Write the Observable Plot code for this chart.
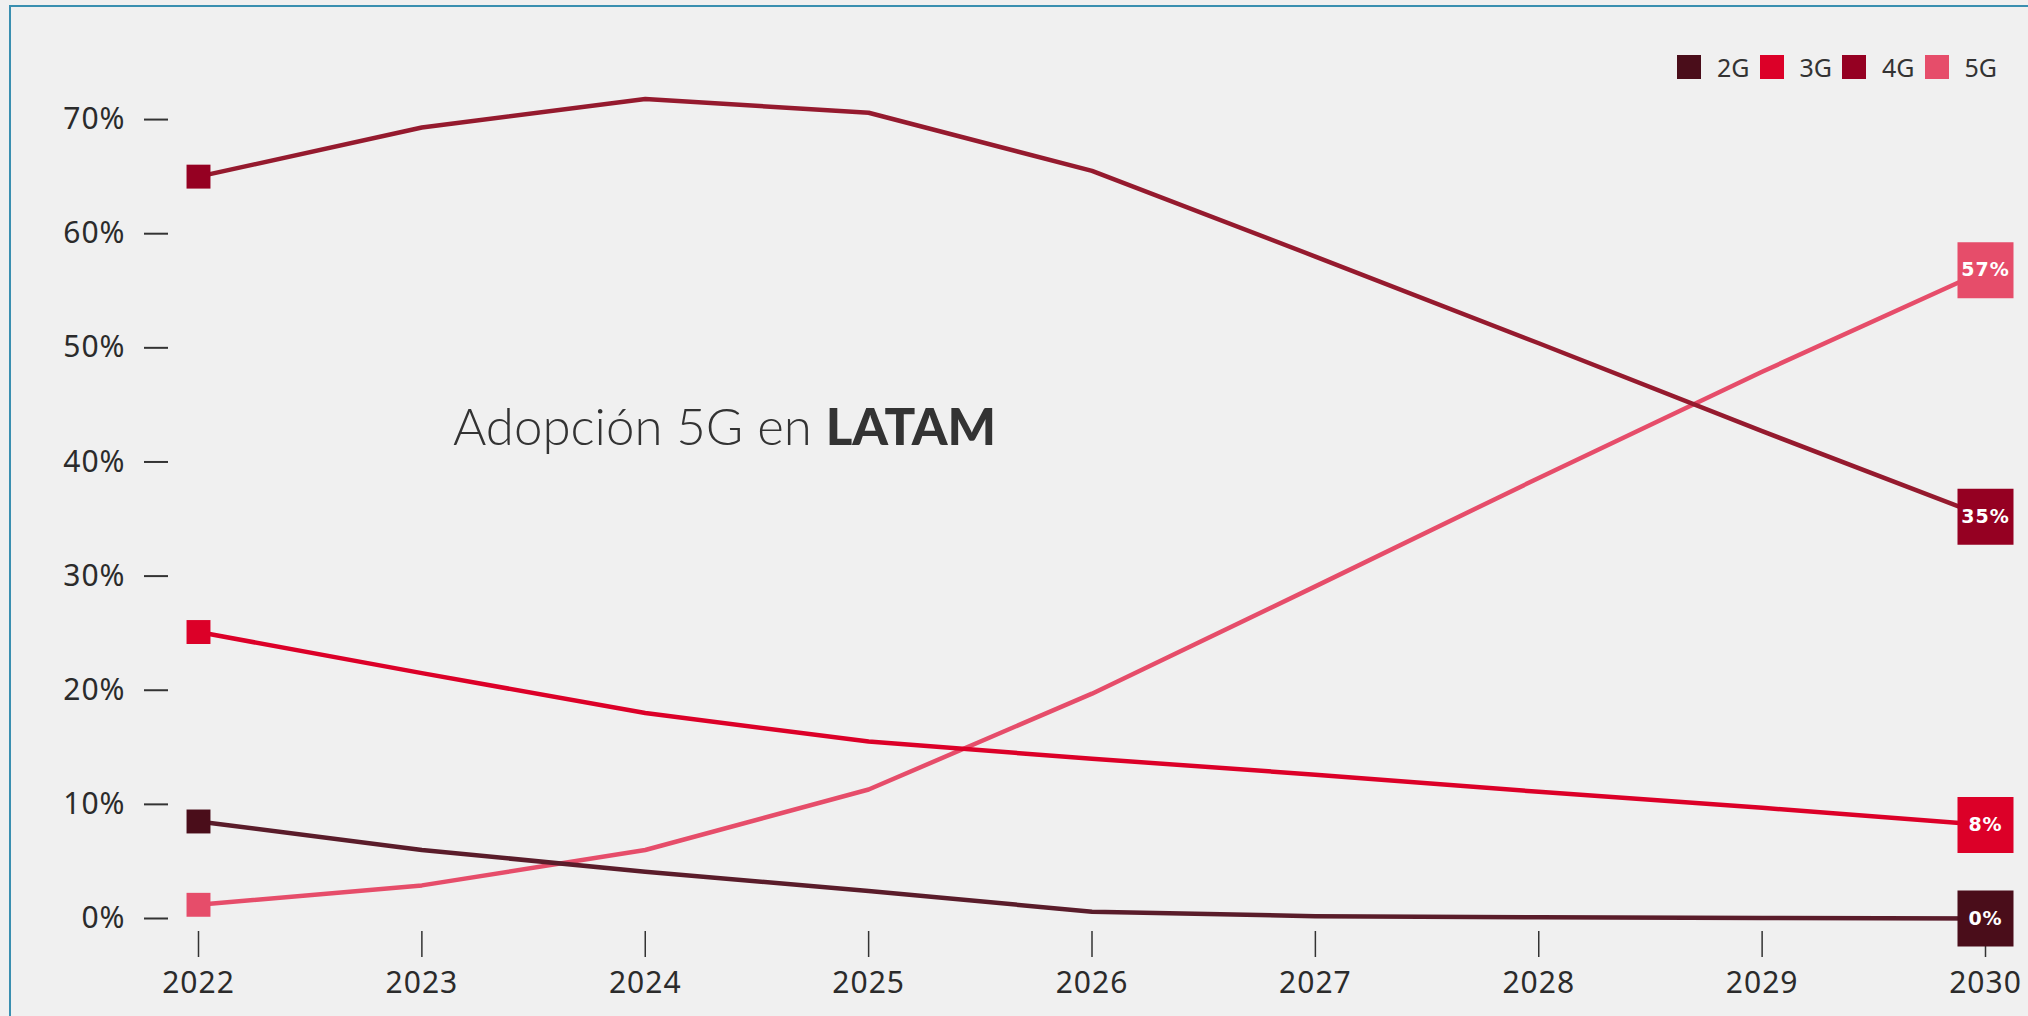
<!DOCTYPE html>
<html><head><meta charset="utf-8">
<script src="https://cdn.jsdelivr.net/npm/d3@7"></script>
<script src="https://cdn.jsdelivr.net/npm/@observablehq/plot@0.6"></script>
<style>
html,body{margin:0;padding:0;background:#f0f0f0;}
#wrap{position:relative;width:2028px;height:1016px;overflow:hidden;background:#f0f0f0;}
#borderTop{position:absolute;left:9px;top:5px;width:2019px;height:2px;background:#3a8fb0;}
#borderLeft{position:absolute;left:9px;top:5px;width:2px;height:1011px;background:#3a8fb0;}
#chart{position:absolute;left:0;top:0;}
#title{position:absolute;left:453px;top:400px;font-family:Lato,"Noto Sans",sans-serif;font-weight:300;font-size:51px;line-height:1;color:#333;white-space:nowrap;}
#title b{font-weight:900;}
#legend{position:absolute;left:1677px;top:55px;height:24px;display:flex;align-items:center;font-family:"Noto Sans",sans-serif;font-size:25px;color:#333;}
#legend .sw{width:24px;height:24px;margin-right:16px;}
#legend .lb{margin-right:10px;}
</style>
</head><body>
<div id="wrap">
  <div id="borderTop"></div><div id="borderLeft"></div>
  <div id="chart"></div>
  <div id="title">Adopción 5G en <b>LATAM</b></div>
  <div id="legend"></div>
</div>
<script>
const years = [2022, 2023, 2024, 2025, 2026, 2027, 2028, 2029, 2030];
const series = ["2G", "3G", "4G", "5G"];
const colors = ["#4a0d1a", "#dc0028", "#950022", "#e64d6a"];
const lineColors = ["#5a1c2a", "#dc0028", "#951a2e", "#e64d6a"];
const values2G = [8.5, 6.0, 4.1, 2.4, 0.6, 0.2, 0.1, 0.05, 0];
const values3G = [25.1, 21.5, 18.0, 15.5, 14.0, 12.6, 11.1, 9.7, 8.2];
const values4G = [65.0, 69.3, 71.8, 70.6, 65.5, 58.0, 50.4, 42.7, 35.2];
const values5G = [1.2, 2.9, 6.0, 11.3, 19.7, 29.1, 38.6, 47.9, 56.8];
const yTicks = [0, 10, 20, 30, 40, 50, 60, 70];

const valuesBySeries = {"2G": values2G, "3G": values3G, "4G": values4G, "5G": values5G};
const drawOrder = ["5G", "4G", "3G", "2G"];
const data = drawOrder.flatMap(s => years.map((y, j) => ({year: y, series: s, value: valuesBySeries[s][j]})));
const first = data.filter(d => d.year === years[0]);
const last = data.filter(d => d.year === years[years.length - 1]);

const chart = Plot.plot({
  width: 2028,
  height: 1016,
  marginTop: 62,
  marginBottom: 85,
  marginLeft: 168,
  marginRight: 43,
  style: {background: "transparent", fontFamily: "'Noto Sans', sans-serif", fontSize: "30px", color: "#2b2b2b", letterSpacing: "1px"},
  x: {domain: [years[0], years[years.length - 1]], insetLeft: 30},
  y: {domain: [0, 75], insetBottom: 13},
  color: {domain: series, range: colors},
  marks: [
    Plot.axisY({ticks: yTicks, tickFormat: d => d + "%", tickSize: 24, tickPadding: 19, strokeWidth: 2, stroke: "#333", fill: "#2b2b2b", fontSize: 30, label: null}),
    Plot.axisX({ticks: years, tickFormat: "d", tickSize: 26, tickPadding: 14, strokeWidth: 1.5, stroke: "#333", fill: "#2b2b2b", fontSize: 30, label: null}),
    Plot.line(data, {x: "year", y: "value", z: "series", stroke: d => lineColors[series.indexOf(d.series)], strokeWidth: 4.5}),
    Plot.dot(first, {x: "year", y: "value", fill: "series", symbol: "square", r: 13.5}),
    Plot.dot(last, {x: "year", y: "value", fill: "series", symbol: "square", r: 31.6}),
    Plot.text(last, {x: "year", y: "value", text: d => Math.round(d.value) + "%", fill: "white", fontWeight: "bold", fontSize: 19, fontFamily: "'DejaVu Sans', sans-serif", letterSpacing: "0px"})
  ]
});
document.getElementById("chart").appendChild(chart);

const legend = document.getElementById("legend");
series.forEach((s, i) => {
  const sw = document.createElement("div");
  sw.className = "sw";
  sw.style.background = colors[i];
  const lb = document.createElement("div");
  lb.className = "lb";
  lb.textContent = s;
  legend.appendChild(sw);
  legend.appendChild(lb);
});
</script>
</body></html>
